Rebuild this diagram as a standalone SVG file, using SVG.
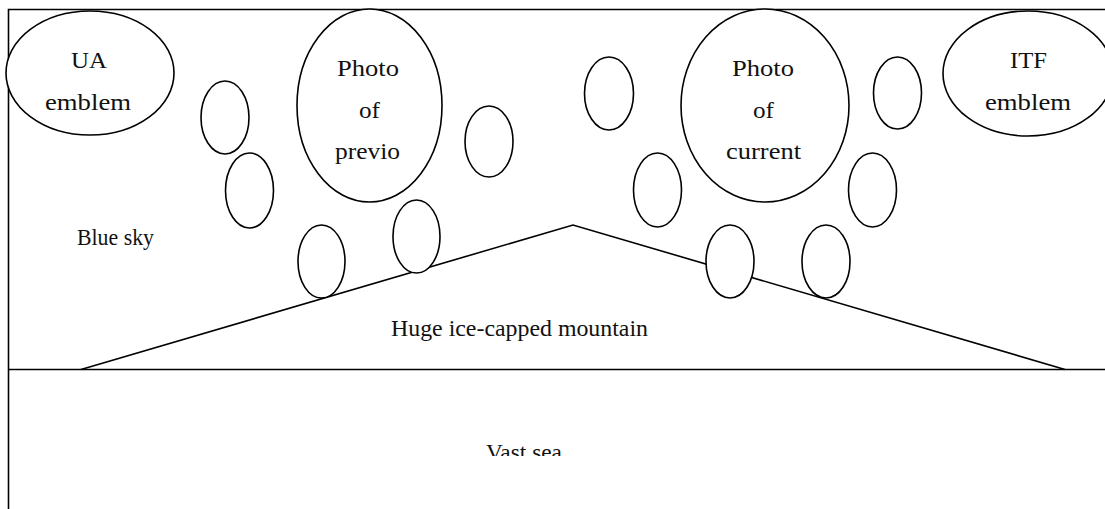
<svg xmlns="http://www.w3.org/2000/svg" width="1105" height="509" viewBox="0 0 1105 509">
  <style>
    .ln { fill: none; stroke: #000; stroke-width: 1.6; }
    .el { fill: #fff; stroke: #000; stroke-width: 1.6; }
    .tx { font-family: "Liberation Serif", "Times New Roman", serif; font-size: 23px; fill: #111; text-anchor: middle; }
  </style>
  <defs>
    <clipPath id="seaClip">
      <rect x="0" y="380" width="1105" height="76"/>
    </clipPath>
  </defs>

  <rect width="1105" height="509" fill="#fff"/>

  <!-- frame, horizon and mountain outline -->
  <g id="scene">
    <path class="ln" d="M8.5 509 V9.5 H1105"/>
    <path class="ln" d="M8.5 369.5 H1105"/>
    <path class="ln" d="M81 369.5 L573 225 L1065 369.5"/>
  </g>

  <!-- region labels -->
  <g id="sky">
    <text class="tx" x="115.5" y="245" font-size="21" textLength="77" lengthAdjust="spacingAndGlyphs">Blue sky</text>
  </g>
  <g id="mountain">
    <text class="tx" x="519.5" y="336" font-size="22" textLength="257" lengthAdjust="spacingAndGlyphs">Huge ice-capped mountain</text>
  </g>
  <g id="sea" clip-path="url(#seaClip)">
    <text class="tx" x="524" y="460" font-size="26" textLength="76" lengthAdjust="spacingAndGlyphs">Vast sea</text>
  </g>

  <!-- emblems -->
  <g id="ua-emblem">
    <ellipse class="el" cx="90" cy="73" rx="84" ry="62"/>
    <text class="tx" x="89" y="68" textLength="36" lengthAdjust="spacingAndGlyphs">UA</text>
    <text class="tx" x="88" y="110" textLength="86" lengthAdjust="spacingAndGlyphs">emblem</text>
  </g>
  <g id="itf-emblem">
    <ellipse class="el" cx="1028" cy="73.5" rx="85" ry="62.5"/>
    <text class="tx" x="1028.5" y="68" textLength="37" lengthAdjust="spacingAndGlyphs">ITF</text>
    <text class="tx" x="1028" y="110" textLength="86" lengthAdjust="spacingAndGlyphs">emblem</text>
  </g>

  <!-- main photos -->
  <g id="photo-previous">
    <ellipse class="el" cx="369.5" cy="105.5" rx="72.5" ry="96.5"/>
    <text class="tx" x="368" y="76" font-size="25" textLength="62" lengthAdjust="spacingAndGlyphs">Photo</text>
    <text class="tx" x="369.5" y="118" font-size="25" textLength="21" lengthAdjust="spacingAndGlyphs">of</text>
    <text class="tx" x="367.5" y="159" font-size="25" textLength="65" lengthAdjust="spacingAndGlyphs">previo</text>
  </g>
  <g id="photo-current">
    <ellipse class="el" cx="765" cy="105.5" rx="84" ry="96.5"/>
    <text class="tx" x="763" y="76" font-size="25" textLength="62" lengthAdjust="spacingAndGlyphs">Photo</text>
    <text class="tx" x="763.5" y="118" font-size="25" textLength="21" lengthAdjust="spacingAndGlyphs">of</text>
    <text class="tx" x="763.5" y="159" font-size="25" textLength="75" lengthAdjust="spacingAndGlyphs">current</text>
  </g>

  <!-- small frames around the previous photo -->
  <g id="small-1"><ellipse class="el" cx="225" cy="117.5" rx="24" ry="36.5"/></g>
  <g id="small-2"><ellipse class="el" cx="249.5" cy="190.5" rx="24" ry="37.5"/></g>
  <g id="small-3"><ellipse class="el" cx="321.5" cy="261.5" rx="23.5" ry="36.5"/></g>
  <g id="small-4"><ellipse class="el" cx="416.5" cy="236.5" rx="23.5" ry="36.5"/></g>
  <g id="small-5"><ellipse class="el" cx="489" cy="141.5" rx="24" ry="35.5"/></g>

  <!-- small frames around the current photo -->
  <g id="small-6"><ellipse class="el" cx="609" cy="93.5" rx="24.5" ry="36.5"/></g>
  <g id="small-7"><ellipse class="el" cx="657.5" cy="190" rx="24" ry="37"/></g>
  <g id="small-8"><ellipse class="el" cx="730" cy="261.5" rx="24" ry="36.5"/></g>
  <g id="small-9"><ellipse class="el" cx="826" cy="261.5" rx="24" ry="36.5"/></g>
  <g id="small-10"><ellipse class="el" cx="872.5" cy="190" rx="24" ry="37"/></g>
  <g id="small-11"><ellipse class="el" cx="897.5" cy="93" rx="24" ry="36"/></g>

  <g id="connectors"></g>
</svg>
